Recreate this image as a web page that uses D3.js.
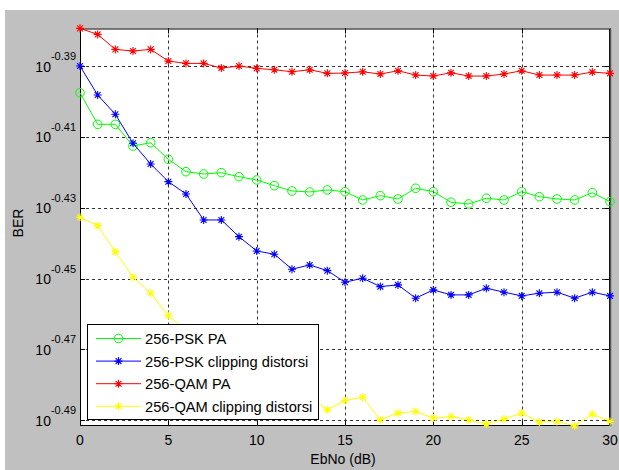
<!DOCTYPE html>
<html>
<head>
<meta charset="utf-8">
<script src="https://cdn.jsdelivr.net/npm/d3@7"></script>
<style>
  html, body { margin: 0; padding: 0; background: #ffffff; }
  svg { display: block; }
  text { font-family: "Liberation Sans", Arial, sans-serif; fill: #000; }
</style>
</head>
<body>
<svg id="chart" width="619" height="470"></svg>
<script>
// Eb/No sweep (dB)
const ebno = d3.range(0, 31);

// BER per scheme
const psk_pa = [0.40038, 0.39224, 0.39224, 0.38675, 0.38758, 0.38343, 0.38035, 0.37978, 0.38011, 0.37912,
  0.37831, 0.37691, 0.37561, 0.37537, 0.37586, 0.37544, 0.37342, 0.37447, 0.37367, 0.37628,
  0.37544, 0.37287, 0.37246, 0.37384, 0.37342, 0.37544, 0.37422, 0.37367, 0.37342, 0.37520, 0.37301];
const psk_clip = [0.40738, 0.39978, 0.39480, 0.38743, 0.38226, 0.37789, 0.37488, 0.36860, 0.36860, 0.36462,
  0.36125, 0.36048, 0.35699, 0.35798, 0.35666, 0.35399, 0.35491, 0.35298, 0.35337, 0.35033,
  0.35222, 0.35108, 0.35108, 0.35261, 0.35170, 0.35085, 0.35147, 0.35170, 0.35033, 0.35170, 0.35085];
const qam_pa = [0.41748, 0.41585, 0.41182, 0.41137, 0.41182, 0.40870, 0.40809, 0.40809, 0.40685, 0.40738,
  0.40677, 0.40640, 0.40587, 0.40640, 0.40545, 0.40553, 0.40587, 0.40527, 0.40614, 0.40500,
  0.40474, 0.40561, 0.40474, 0.40474, 0.40527, 0.40614, 0.40500, 0.40500, 0.40500, 0.40579, 0.40545];
const qam_clip = [0.36925, 0.36724, 0.36109, 0.35514, 0.35147, 0.34639, 0.34319, 0.33964, 0.33657, 0.33417,
  0.33222, 0.33072, 0.32964, 0.32858, 0.32581, 0.32778, 0.32851, 0.32371, 0.32512, 0.32545,
  0.32407, 0.32440, 0.32371, 0.32280, 0.32385, 0.32512, 0.32322, 0.32335, 0.32245, 0.32491, 0.32335];

const seriesNames = ["256-PSK PA", "256-PSK clipping distorsi", "256-QAM PA", "256-QAM clipping distorsi"];
const seriesColors = ["#00ff00", "#0000ff", "#ff0000", "#ffff00"];
const seriesMarkers = ["circle", "star", "star", "star"];
const seriesValues = [psk_pa, psk_clip, qam_pa, qam_clip];

// tick exponents for the log axis: 10^e
const yTickExp = [-0.39, -0.41, -0.43, -0.45, -0.47, -0.49];
const xTicks = [0, 5, 10, 15, 20, 25, 30];

const svg = d3.select("#chart");
const W = 619, H = 470;
const plot = { left: 80, right: 610, top: 28.5, bottom: 426 };

// figure background
svg.append("rect").attr("x", 5).attr("y", 10).attr("width", W - 5).attr("height", H - 10).attr("fill", "#c0c0c0");

const x = d3.scaleLinear().domain([0, 30]).range([plot.left, plot.right]);
const y = d3.scaleLog().domain([Math.pow(10, -0.4916), Math.pow(10, -0.3794)]).range([plot.bottom, plot.top]);

// axes area
svg.append("rect")
  .attr("x", plot.left).attr("y", plot.top)
  .attr("width", plot.right - plot.left).attr("height", plot.bottom - plot.top)
  .attr("fill", "#ffffff");

// dashed grid
const grid = svg.append("g").attr("stroke", "#333").attr("stroke-width", 1).attr("stroke-dasharray", "3,3");
xTicks.filter(v => v > 0 && v < 30).forEach(v => {
  grid.append("line").attr("x1", Math.round(x(v)) + 0.5).attr("x2", Math.round(x(v)) + 0.5)
    .attr("y1", plot.top).attr("y2", plot.bottom);
});
yTickExp.forEach(e => {
  const yy = Math.round(y(Math.pow(10, e))) + 0.5;
  grid.append("line").attr("x1", plot.left).attr("x2", plot.right).attr("y1", yy).attr("y2", yy);
});

// inward tick marks on all four sides
const ticks = svg.append("g").attr("stroke", "#000").attr("stroke-width", 1);
xTicks.forEach(v => {
  const xx = Math.round(x(v)) + 0.5;
  ticks.append("line").attr("x1", xx).attr("x2", xx).attr("y1", plot.bottom).attr("y2", plot.bottom - 5);
  ticks.append("line").attr("x1", xx).attr("x2", xx).attr("y1", plot.top).attr("y2", plot.top + 5);
});
yTickExp.forEach(e => {
  const yy = Math.round(y(Math.pow(10, e))) + 0.5;
  ticks.append("line").attr("x1", plot.left).attr("x2", plot.left + 5).attr("y1", yy).attr("y2", yy);
  ticks.append("line").attr("x1", plot.right).attr("x2", plot.right - 5).attr("y1", yy).attr("y2", yy);
});

// box
svg.append("rect")
  .attr("x", plot.left + 0.5).attr("y", plot.top + 0.5)
  .attr("width", plot.right - plot.left - 1).attr("height", plot.bottom - plot.top - 1)
  .attr("fill", "none").attr("stroke", "#000").attr("stroke-width", 1);
svg.append("line").attr("x1", plot.right + 0.5).attr("x2", plot.right + 0.5)
  .attr("y1", plot.top).attr("y2", plot.bottom).attr("stroke", "#555").attr("stroke-width", 1.5);

// x tick labels
svg.append("g").selectAll("text").data(xTicks).join("text")
  .attr("x", d => x(d)).attr("y", 445)
  .attr("text-anchor", "middle").attr("font-size", 14)
  .text(d => d);

// y tick labels: 10 with superscript exponent
const yl = svg.append("g");
yTickExp.forEach(e => {
  const yy = y(Math.pow(10, e));
  const t = yl.append("text").attr("x", 76).attr("y", yy + 5.5).attr("text-anchor", "end").attr("font-size", 14);
  t.append("tspan").text("10");
  t.append("tspan").attr("font-size", 11).attr("dy", -11.5).text(e.toFixed(2).replace("-0.", "-0."));
});

// axis titles
svg.append("text").attr("x", 343).attr("y", 463.5).attr("text-anchor", "middle").attr("font-size", 14).text("EbNo (dB)");
svg.append("text").attr("transform", "translate(23,223) rotate(-90)").attr("text-anchor", "middle")
  .attr("font-size", 14).text("BER");

// marker shapes
const starPath = "M-4,0H4M0,-4V4M-2.9,-2.9L2.9,2.9M-2.9,2.9L2.9,-2.9";
function drawMarker(g, kind, color, cx, cy) {
  if (kind === "circle") {
    g.append("circle").attr("cx", cx).attr("cy", cy).attr("r", 4.3)
      .attr("fill", "none").attr("stroke", color).attr("stroke-width", 1);
  } else {
    g.append("path").attr("d", starPath).attr("transform", `translate(${cx},${cy})`)
      .attr("fill", "none").attr("stroke", color).attr("stroke-width", 1.1);
  }
}

const line = d3.line().x(d => x(d[0])).y(d => y(d[1]));

// series lines and markers (drawn in order so red sits above green/blue)
seriesValues.forEach((vals, i) => {
  const pts = ebno.map((e, k) => [e, vals[k]]);
  const g = svg.append("g");
  g.append("path").datum(pts).attr("d", line)
    .attr("fill", "none").attr("stroke", seriesColors[i]).attr("stroke-width", 1);
  pts.forEach(p => drawMarker(g, seriesMarkers[i], seriesColors[i], x(p[0]), y(p[1])));
});

// legend
const lg = { x: 87.5, y: 324.5, w: 231, h: 95, rowY: 338.5, rowStep: 22.6 };
const legend = svg.append("g");
legend.append("rect").attr("x", lg.x).attr("y", lg.y).attr("width", lg.w).attr("height", lg.h)
  .attr("fill", "#ffffff").attr("stroke", "#000").attr("stroke-width", 1);
seriesNames.forEach((name, i) => {
  const cy = lg.rowY + i * lg.rowStep;
  legend.append("line").attr("x1", 96).attr("x2", 141).attr("y1", cy).attr("y2", cy)
    .attr("stroke", seriesColors[i]).attr("stroke-width", 1);
  drawMarker(legend, seriesMarkers[i], seriesColors[i], 118.5, cy);
  legend.append("text").attr("x", 145).attr("y", cy + 5.5).attr("font-size", 14.7).text(name);
});
</script>
</body>
</html>
